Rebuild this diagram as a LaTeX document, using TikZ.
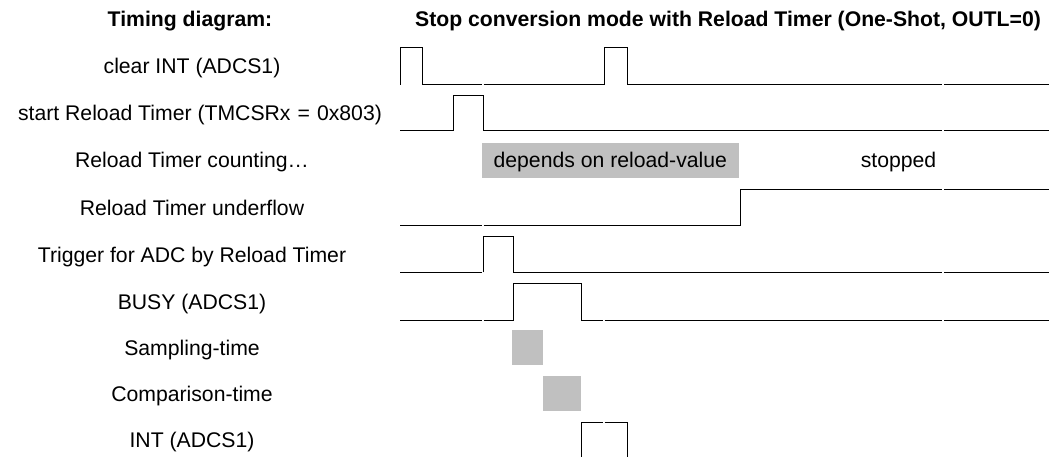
\documentclass[tikz,border=0pt]{standalone}
\usepackage{fontspec}
\setmainfont{Liberation Sans}
\definecolor{boxgrey}{RGB}{192,192,192}
\begin{document}
\begin{tikzpicture}[x=1pt,y=-1pt,
  sig/.style={line width=1pt, black},
  lbl/.style={anchor=base, inner sep=0pt, font=\fontsize{21.2}{25}\selectfont},
  ttl/.style={lbl, font=\fontsize{21.2}{25}\selectfont\bfseries},
  shade/.style={fill=boxgrey, draw=none}]
\useasboundingbox (0,0) rectangle (1049,457);

% headings
\node[ttl] (title) at (190,27) {Timing diagram:};
\node[ttl, anchor=base west] (mode) at (415,27) {Stop conversion mode with Reload Timer (One-Shot, OUTL=0)};

% signal names
\node[lbl] (lclr)  at (192,74)    {clear INT (ADCS1)};
\node[lbl] (lstrt) at (200,121)   {start Reload Timer (TMCSRx\,\,=\,\,0x803)};
\node[lbl] (lcnt)  at (192,168)   {Reload Timer counting…};
\node[lbl] (lunf)  at (192,215)   {Reload Timer underflow};
\node[lbl] (ltrg)  at (192,262)   {Trigger for ADC by Reload Timer};
\node[lbl] (lbusy) at (192,309.5) {BUSY (ADCS1)};
\node[lbl] (lsmp)  at (192,355)   {Sampling-time};
\node[lbl] (lcmp)  at (192,401)   {Comparison-time};
\node[lbl] (lint)  at (192,447)   {INT (ADCS1)};

% clear INT (ADCS1)
\draw[sig] (400,85) -- (400,48) -- (422.7,48) -- (422.7,85) -- (481.7,85);
\draw[sig] (483.7,85) -- (604,85) -- (604,48) -- (627.3,48) -- (627.3,85) -- (942.3,85);
\draw[sig] (944.3,85) -- (1049,85);

% start Reload Timer
\draw[sig] (400,131) -- (453.3,131) -- (453.3,96) -- (483.3,96) -- (483.3,131) -- (942.3,131);
\draw[sig] (944.3,131) -- (1049,131);

% Reload Timer counting
\fill[shade] (481.7,143.3) rectangle (739,177.7);
\node[lbl] (reload) at (610.3,168) {depends on reload-value};
\node[lbl] (stop) at (898.5,168) {stopped};

% Reload Timer underflow
\draw[sig] (400,225) -- (481.7,225);
\draw[sig] (483.7,225) -- (740.7,225) -- (740.7,189.3) -- (942.3,189.3);
\draw[sig] (944.3,189.3) -- (1049,189.3);

% Trigger for ADC
\draw[sig] (400,272.3) -- (481.7,272.3);
\draw[sig] (483.7,272.3) -- (483.7,236.7) -- (513.3,236.7) -- (513.3,272.3) -- (942.3,272.3);
\draw[sig] (944.3,272.3) -- (1049,272.3);

% BUSY (ADCS1)
\draw[sig] (400,320.3) -- (481.7,320.3);
\draw[sig] (483.7,320.3) -- (513.3,320.3) -- (513.3,283.7) -- (581.7,283.7) -- (581.7,320.3) -- (602.7,320.3);
\draw[sig] (604.7,320.3) -- (942.3,320.3);
\draw[sig] (944.3,320.3) -- (1049,320.3);

% sampling and comparison phases
\fill[shade] (512,330) rectangle (543,364.7);
\fill[shade] (543,376) rectangle (581,410.7);

% INT (ADCS1)
\draw[sig] (581.7,457) -- (581.7,422.3) -- (602.7,422.3);
\draw[sig] (604.7,422.3) -- (627.3,422.3) -- (627.3,457);
\end{tikzpicture}
\end{document}
